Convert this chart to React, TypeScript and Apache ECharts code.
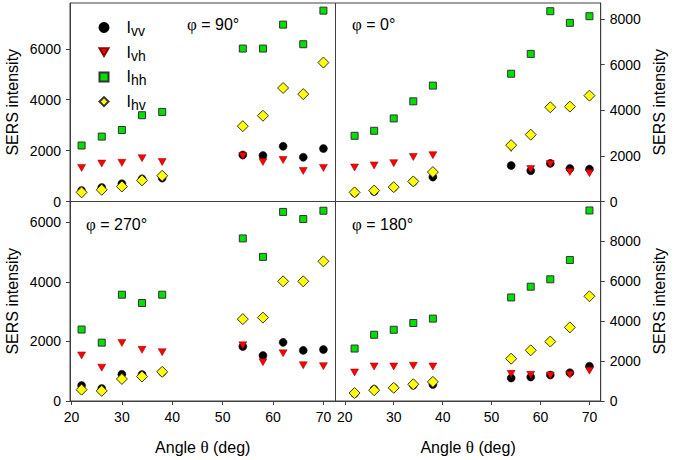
import React, { useEffect, useRef } from "react";
import * as echarts from "echarts";

const angles = [22, 26, 30, 34, 38, 54, 58, 62, 66, 70];
const xTicks = [20, 30, 40, 50, 60, 70];
const panelLabels = ["90°", "0°", "270°", "180°"];
const seriesNames = ["Ivv", "Ivh", "Ihh", "Ihv"];
const seriesSubs = ["vv", "vh", "hh", "hv"];

// φ = 90°
const vv90 = [430, 550, 700, 890, 920, 1830, 1810, 2170, 1740, 2080];
const vh90 = [1320, 1490, 1520, 1700, 1550, 1790, 1550, 1630, 1200, 1320];
const hh90 = [2200, 2550, 2810, 3390, 3520, 6010, 6010, 6950, 6180, 7500];
const hv90 = [360, 460, 590, 830, 1010, 2960, 3370, 4460, 4220, 5460];

// φ = 0°
const vv0 = [380, 440, 620, 870, 1070, 1580, 1350, 1670, 1450, 1420];
const vh0 = [1490, 1580, 1680, 1950, 2030, 2340, 1420, 1640, 1290, 1240];
const hh0 = [2880, 3100, 3640, 4390, 5080, 5600, 6470, 8340, 7830, 8120];
const hv0 = [400, 480, 630, 880, 1290, 2470, 2930, 4130, 4160, 4640];

// φ = 270°
const vv270 = [520, 420, 900, 890, 970, 1830, 1530, 1970, 1700, 1730];
const vh270 = [1530, 1120, 1950, 1720, 1640, 1870, 1300, 1600, 1200, 1170];
const hh270 = [2400, 1960, 3570, 3290, 3570, 5460, 4840, 6350, 6110, 6390];
const hv270 = [380, 340, 740, 820, 980, 2750, 2800, 4020, 4020, 4690];

// φ = 180°
const vv180 = [380, 590, 670, 790, 830, 1150, 1200, 1300, 1420, 1740];
const vh180 = [1430, 1730, 1730, 1770, 1730, 1360, 1310, 1280, 1310, 1520];
const hh180 = [2630, 3320, 3570, 3910, 4130, 5190, 5730, 6100, 7070, 9550];
const hv180 = [400, 540, 660, 840, 960, 2120, 2540, 2980, 3690, 5250];

const panels = [
  [vv90, vh90, hh90, hv90],
  [vv0, vh0, hh0, hv0],
  [vv270, vh270, hh270, hv270],
  [vv180, vh180, hh180, hv180],
];
const yMax = [7800, 8700, 6700, 10000];

const TRI = "path://M0,0L10,0L5,8.66Z";
const FONT = "Liberation Sans";
const AXIS_COLOR = "#404040";

const symbolStyles = [
  { symbol: "circle", symbolSize: 8, itemStyle: { color: "#000000", borderColor: "#000000", borderWidth: 0.5, opacity: 1 } },
  { symbol: TRI, symbolSize: [8, 7], itemStyle: { color: "#ff0000", borderColor: "#8b0000", borderWidth: 0.5, opacity: 1 } },
  { symbol: "rect", symbolSize: 7, itemStyle: { color: "#00e000", borderColor: "#333333", borderWidth: 1, opacity: 1 } },
  { symbol: "diamond", symbolSize: 11, itemStyle: { color: "#ffff00", borderColor: "#333333", borderWidth: 1, opacity: 1 } },
];

export default function App() {
  const ref = useRef<HTMLDivElement>(null);
  useEffect(() => {
    document.body.style.margin = "0";
    const chart = echarts.init(ref.current!, null, { renderer: "svg" });

    const grids = [
      { left: 70, top: 3, width: 265.5, height: 198.5 },
      { left: 335.5, top: 3, width: 265.2, height: 198.5 },
      { left: 70, top: 201.5, width: 265.5, height: 199.5 },
      { left: 335.5, top: 201.5, width: 265.2, height: 199.5 },
    ].map((g) => ({ ...g, show: true, borderColor: AXIS_COLOR, borderWidth: 1, containLabel: false }));

    const xAxes = [0, 1, 2, 3].map((i) => {
      const isBottom = i >= 2;
      const isLeft = i % 2 === 0;
      return {
        type: "value",
        gridIndex: i,
        min: isLeft ? 19.7 : 18.1,
        max: isLeft ? 72.4 : 72.3,
        name: isBottom ? "Angle {t|θ} (deg)" : "",
        nameLocation: "middle",
        nameGap: 38,
        nameTextStyle: {
          fontSize: 16,
          fontFamily: FONT,
          color: "#000",
          rich: { t: { fontSize: 17, fontFamily: "Liberation Serif", color: "#000" } },
        },
        axisLine: { show: true, lineStyle: { color: AXIS_COLOR, width: 1 } },
        axisTick: {
          show: isBottom,
          inside: false,
          length: 4,
          customValues: xTicks,
          lineStyle: { color: AXIS_COLOR },
        },
        axisLabel: {
          show: isBottom,
          customValues: xTicks,
          fontSize: 14,
          fontFamily: FONT,
          color: "#000",
          margin: 9,
          formatter: (v: number) => String(v),
        },
        splitLine: { show: false },
      };
    });

    const yAxes = [0, 1, 2, 3].map((i) => {
      const isLeft = i % 2 === 0;
      return {
        type: "value",
        gridIndex: i,
        position: isLeft ? "left" : "right",
        min: 0,
        max: yMax[i],
        interval: 2000,
        name: "SERS intensity",
        nameLocation: "middle",
        nameGap: isLeft ? 50 : 51,
        nameTextStyle: { fontSize: 16, fontFamily: FONT, color: "#000" },
        axisLine: { show: true, lineStyle: { color: AXIS_COLOR, width: 1 } },
        axisTick: { show: true, inside: false, length: 4, lineStyle: { color: AXIS_COLOR } },
        axisLabel: {
          fontSize: 14,
          fontFamily: FONT,
          color: "#000",
          margin: 9,
          showMaxLabel: false,
          formatter: (v: number) => String(v),
        },
        splitLine: { show: false },
      };
    });

    const series: any[] = [];
    panels.forEach((panel, p) => {
      panel.forEach((vals, s) => {
        series.push({
          type: "scatter",
          name: seriesNames[s],
          xAxisIndex: p,
          yAxisIndex: p,
          data: angles.map((a, k) => [a, vals[k]]),
          ...symbolStyles[s],
          emphasis: { disabled: true },
          z: 2 + s,
        });
      });
    });

    const labelPos = [
      [187, 24],
      [352, 24],
      [86, 224],
      [352, 224],
    ];
    const graphic = panelLabels.map((lab, i) => ({
      type: "text",
      x: labelPos[i][0],
      y: labelPos[i][1],
      style: {
        text: "{p|φ} = " + lab,
        rich: { p: { fontFamily: "Liberation Serif", fontSize: 17, fill: "#000" } },
        fontSize: 16,
        fontFamily: FONT,
        fill: "#000",
        verticalAlign: "middle",
        align: "left",
      },
    }));

    const option: any = {
      animation: false,
      backgroundColor: "#ffffff",
      grid: grids,
      xAxis: xAxes,
      yAxis: yAxes,
      legend: {
        data: seriesNames,
        orient: "vertical",
        left: 93.5,
        top: 12,
        itemWidth: 9,
        itemHeight: 9,
        itemGap: 3.7,
        selectedMode: false,
        formatter: (name: string) => "{i|I}{s|" + seriesSubs[seriesNames.indexOf(name)] + "}",
        textStyle: {
          fontFamily: FONT,
          color: "#000",
          rich: {
            i: { fontSize: 16, fontFamily: FONT, padding: [0, 0, 0, 13], lineHeight: 20 },
            s: { fontSize: 14, fontFamily: FONT, padding: [7, 0, 0, 0], lineHeight: 20 },
          },
        },
      },
      graphic,
      series,
    };
    chart.setOption(option);
    return () => chart.dispose();
  }, []);
  return <div ref={ref} style={{ width: 675, height: 460 }} />;
}
